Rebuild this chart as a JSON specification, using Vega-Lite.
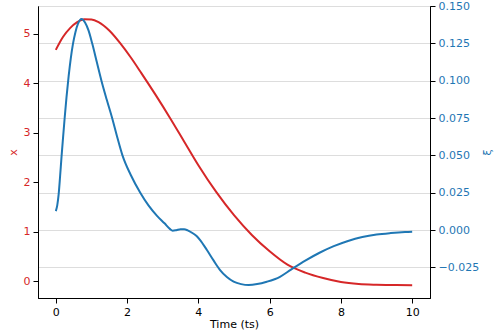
{
  "$schema": "https://vega.github.io/schema/vega-lite/v6.json",
  "width": 392,
  "height": 292,
  "autosize": {"type": "none"},
  "padding": {"left": 38, "top": 6, "right": 73, "bottom": 33},
  "background": "white",
  "config": {
    "view": {"stroke": "black", "strokeWidth": 1},
    "font": "DejaVu Sans",
    "axis": {
      "labelFont": "DejaVu Sans",
      "titleFont": "DejaVu Sans",
      "labelFontSize": 11,
      "titleFontSize": 11,
      "titleFontWeight": "normal",
      "domainColor": "black",
      "tickColor": "black",
      "tickSize": 5,
      "labelPadding": 3
    }
  },
  "datasets": {
    "red": [
      {"t": 0, "x": 4.67}, {"t": 0.2, "x": 4.93}, {"t": 0.4, "x": 5.11}, {"t": 0.6, "x": 5.23},
      {"t": 0.8, "x": 5.29}, {"t": 1.0, "x": 5.285}, {"t": 1.2, "x": 5.23}, {"t": 1.5, "x": 5.06},
      {"t": 1.8, "x": 4.81}, {"t": 2.1, "x": 4.52}, {"t": 2.4, "x": 4.2}, {"t": 2.8, "x": 3.76},
      {"t": 3.2, "x": 3.3}, {"t": 3.6, "x": 2.82}, {"t": 4.0, "x": 2.34}, {"t": 4.5, "x": 1.8},
      {"t": 5.0, "x": 1.33}, {"t": 5.5, "x": 0.93}, {"t": 6.0, "x": 0.6}, {"t": 6.5, "x": 0.33},
      {"t": 7.0, "x": 0.17}, {"t": 7.5, "x": 0.06}, {"t": 8.0, "x": -0.02}, {"t": 8.5, "x": -0.06},
      {"t": 9.0, "x": -0.075}, {"t": 9.5, "x": -0.082}, {"t": 10, "x": -0.083}
    ],
    "blue": [
      {"t": 0, "xi": 0.0127}, {"t": 0.04, "xi": 0.0165}, {"t": 0.08, "xi": 0.024}, {"t": 0.12, "xi": 0.036},
      {"t": 0.16, "xi": 0.049}, {"t": 0.2, "xi": 0.061}, {"t": 0.25, "xi": 0.0755}, {"t": 0.3, "xi": 0.089},
      {"t": 0.36, "xi": 0.103}, {"t": 0.42, "xi": 0.115}, {"t": 0.48, "xi": 0.1245}, {"t": 0.55, "xi": 0.1325},
      {"t": 0.62, "xi": 0.138}, {"t": 0.72, "xi": 0.1413}, {"t": 0.82, "xi": 0.139},
      {"t": 0.92, "xi": 0.1335}, {"t": 1.02, "xi": 0.125}, {"t": 1.15, "xi": 0.1125}, {"t": 1.28, "xi": 0.1},
      {"t": 1.43, "xi": 0.0872}, {"t": 1.58, "xi": 0.075}, {"t": 1.72, "xi": 0.0625}, {"t": 1.87, "xi": 0.05},
      {"t": 2.1, "xi": 0.037}, {"t": 2.37, "xi": 0.025}, {"t": 2.6, "xi": 0.0165}, {"t": 2.84, "xi": 0.0095},
      {"t": 3.05, "xi": 0.0045}, {"t": 3.2, "xi": 0.0008}, {"t": 3.28, "xi": -0.0004}, {"t": 3.38, "xi": -0.0001},
      {"t": 3.5, "xi": 0.0005}, {"t": 3.6, "xi": 0.0005}, {"t": 3.7, "xi": -0.0002}, {"t": 3.8, "xi": -0.0015},
      {"t": 3.95, "xi": -0.004}, {"t": 4.05, "xi": -0.0067}, {"t": 4.24, "xi": -0.0134}, {"t": 4.43, "xi": -0.0205},
      {"t": 4.61, "xi": -0.0268}, {"t": 4.8, "xi": -0.0315}, {"t": 4.99, "xi": -0.0346}, {"t": 5.2, "xi": -0.0362},
      {"t": 5.41, "xi": -0.0368}, {"t": 5.65, "xi": -0.0362}, {"t": 5.92, "xi": -0.0346}, {"t": 6.29, "xi": -0.0313},
      {"t": 6.6, "xi": -0.0265}, {"t": 7.0, "xi": -0.0205}, {"t": 7.4, "xi": -0.0152}, {"t": 7.8, "xi": -0.0108},
      {"t": 8.2, "xi": -0.0073}, {"t": 8.6, "xi": -0.0047}, {"t": 9.0, "xi": -0.003}, {"t": 9.4, "xi": -0.002},
      {"t": 9.8, "xi": -0.0013}, {"t": 10, "xi": -0.0011}
    ]
  },
  "layer": [
    {
      "data": {"name": "red"},
      "mark": {"type": "line", "color": "#d62728", "strokeWidth": 2, "interpolate": "monotone", "clip": true},
      "encoding": {
        "x": {
          "field": "t", "type": "quantitative",
          "scale": {"domain": [-0.5, 10.5], "nice": false, "zero": false},
          "axis": {"values": [0, 2, 4, 6, 8, 10], "format": "d", "title": "Time (ts)", "grid": false,
                   "labelColor": "black", "titleColor": "black",
                   "titleX": 196, "titleY": 29, "titleAlign": "center", "titleBaseline": "alphabetic"}
        },
        "y": {
          "field": "x", "type": "quantitative",
          "scale": {"domain": [-0.343, 5.556], "nice": false, "zero": false},
          "axis": {"orient": "left", "values": [0, 1, 2, 3, 4, 5], "format": "d", "title": "x", "grid": false,
                   "labelColor": "#d62728", "titleColor": "#d62728",
                   "titleAngle": 270, "titleX": -25, "titleY": 146, "titleAlign": "center", "titleBaseline": "middle"}
        }
      }
    },
    {
      "data": {"name": "blue"},
      "mark": {"type": "line", "color": "#1f77b4", "strokeWidth": 2, "interpolate": "monotone", "clip": true},
      "encoding": {
        "x": {"field": "t", "type": "quantitative"},
        "y": {
          "field": "xi", "type": "quantitative",
          "scale": {"domain": [-0.0455, 0.150], "nice": false, "zero": false},
          "axis": {"orient": "right", "values": [-0.025, 0, 0.025, 0.05, 0.075, 0.1, 0.125, 0.15], "format": ".3f",
                   "title": "ξ", "grid": true, "gridColor": "#dddddd", "gridWidth": 1,
                   "labelColor": "#1f77b4", "titleColor": "#1f77b4",
                   "titleAngle": 270, "titleX": 57, "titleY": 146, "titleAlign": "center", "titleBaseline": "middle"}
        }
      }
    }
  ],
  "resolve": {"scale": {"y": "independent"}}
}
